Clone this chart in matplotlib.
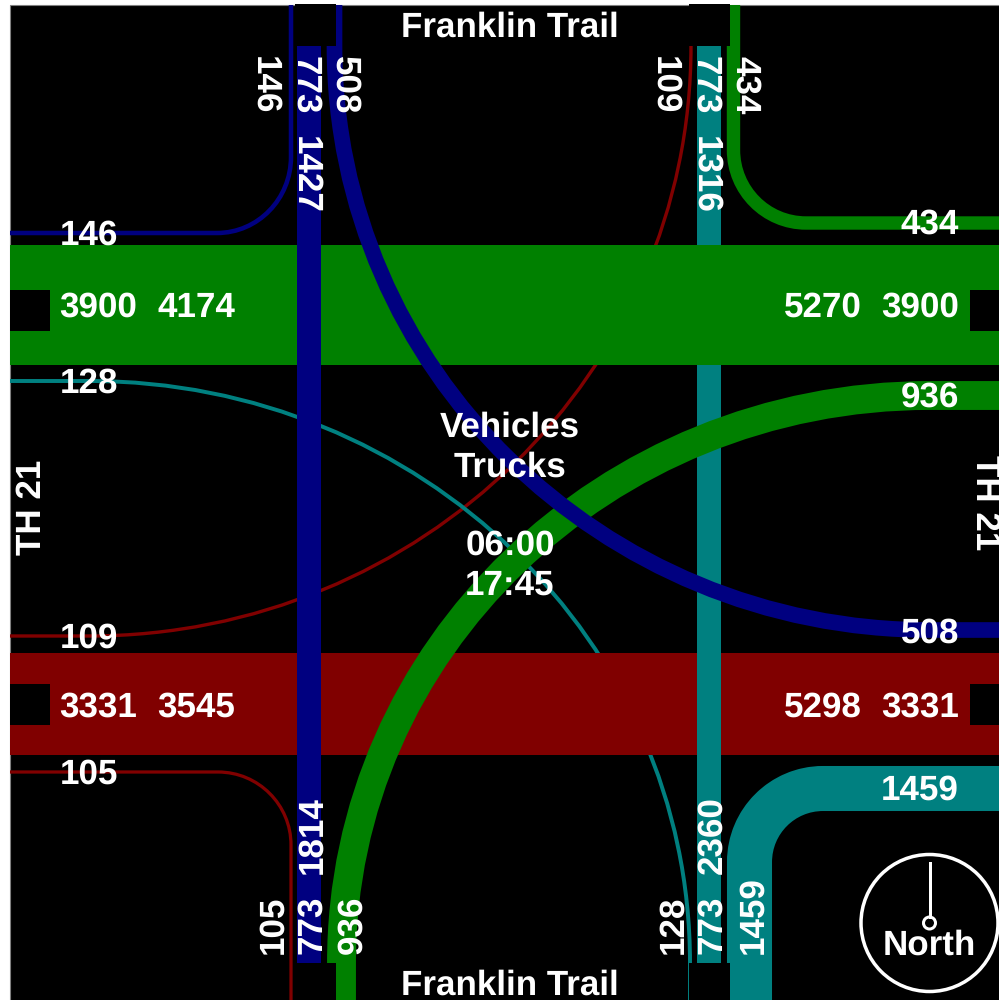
"""Turning movement flow map for TH 21 at the two Franklin Trail junctions"""

import matplotlib
matplotlib.use('Agg')
import matplotlib.pyplot as plt
from matplotlib.patches import Circle, PathPatch, Rectangle
from matplotlib.path import Path

plt.rcParams['font.family'] = ['Liberation Sans', 'DejaVu Sans']
plt.rcParams['text.hinting'] = 'no_hinting'
plt.rcParams['text.hinting_factor'] = 1

GREEN = '#008000'
NAVY = '#000080'
TEAL = '#008080'
MAROON = '#800000'

# Volumes, band width follows volume
main_road = [3900, 3331]
main_road_colors = [GREEN, MAROON]
side_road = [773, 773]
side_road_colors = [NAVY, TEAL]
turn_names = ['nw_in', 'nw_out', 'ne_in', 'ne_out', 'sw_in', 'sw_out', 'se_in', 'se_out']
turn_volumes = [146, 508, 434, 109, 105, 936, 128, 1459]
turn_colors = [NAVY, NAVY, GREEN, MAROON, MAROON, GREEN, TEAL, TEAL]

left_totals = [[3900, 4174], [3331, 3545]]
right_totals = [[5270, 3900], [5298, 3331]]
top_totals = [1427, 1316]
bottom_totals = [1814, 2360]

VOLUME_PER_PIXEL = 32.4
PX = 72 / 100  # points per pixel at dpi 100
FONT_SIZE = 25.4


def px_width(volume):
    return volume / VOLUME_PER_PIXEL


def turn_path(start, a, b, end):
    # straight, then a quarter ellipse, then straight again
    k = 0.5523
    corner = (a[0], b[1]) if a[0] == start[0] else (b[0], a[1])
    c1 = (a[0] + k * (corner[0] - a[0]), a[1] + k * (corner[1] - a[1]))
    c2 = (b[0] + k * (corner[0] - b[0]), b[1] + k * (corner[1] - b[1]))
    codes = [Path.MOVETO, Path.LINETO, Path.CURVE4, Path.CURVE4, Path.CURVE4, Path.LINETO]
    return Path([start, a, c1, c2, b, end], codes)


def draw_turn(ax, name, start, a, b, end, zorder):
    i = turn_names.index(name)
    patch = PathPatch(turn_path(start, a, b, end), fill=False, edgecolor=turn_colors[i],
                      linewidth=px_width(turn_volumes[i]) * PX, capstyle='butt',
                      joinstyle='round', zorder=zorder)
    ax.add_patch(patch)


def label(ax, x, y, value, rotation=0, ha='left', zorder=10):
    ax.text(x, y, str(value), color='white', fontsize=FONT_SIZE, fontweight='bold',
            rotation=rotation, rotation_mode='anchor', ha=ha, va='baseline', zorder=zorder)


fig = plt.figure(figsize=(9.99, 10), dpi=100, facecolor='white')
ax = fig.add_axes([0, 0, 1, 1])
ax.set_xlim(0, 999)
ax.set_ylim(1000, 0)
ax.axis('off')

# Background
ax.add_patch(Rectangle((9.8, 5.2), 1000, 1000, facecolor='black', edgecolor='#808080',
                       linewidth=0.8, zorder=0))

# Thin movements go under the roads
draw_turn(ax, 'ne_out', (10, 636), (89, 636), (691, 46), (691, 5), 1)
draw_turn(ax, 'sw_in', (10, 772), (218, 772), (291, 845), (291, 1001), 1)
draw_turn(ax, 'se_in', (10, 381), (89, 381), (690, 963), (690, 1001), 2)

# Main road bands, teal side road sits between them
main_y = [305, 704]
ax.add_patch(Rectangle((10, main_y[1] - px_width(main_road[1]) / 2), 990, px_width(main_road[1]),
                       facecolor=main_road_colors[1], edgecolor='none', zorder=3))
side_x = [309, 709]
ax.add_patch(Rectangle((side_x[1] - px_width(side_road[1]) / 2, 46), px_width(side_road[1]), 917,
                       facecolor=side_road_colors[1], edgecolor='none', zorder=4))
draw_turn(ax, 'se_out', (1001, 788.5), (823, 788.5), (749.5, 862), (749.5, 1001), 4)
ax.add_patch(Rectangle((10, main_y[0] - px_width(main_road[0]) / 2), 990, px_width(main_road[0]),
                       facecolor=main_road_colors[0], edgecolor='none', zorder=5))

draw_turn(ax, 'sw_out', (1001, 395.5), (930, 395.5), (341.5, 963), (341.5, 1001), 6)
draw_turn(ax, 'ne_in', (733.5, 5), (733.5, 150), (806, 223), (1001, 223), 6)

ax.add_patch(Rectangle((side_x[0] - px_width(side_road[0]) / 2, 46), px_width(side_road[0]), 917,
                       facecolor=side_road_colors[0], edgecolor='none', zorder=7))
draw_turn(ax, 'nw_in', (291, 5), (291, 157), (217, 233), (10, 233), 7)
draw_turn(ax, 'nw_out', (334.5, 5), (334.5, 46), (930, 630), (1001, 630), 7)

# Black notches at the road ends
for x, w in [(295, 41), (689, 41)]:
    ax.add_patch(Rectangle((x, 4), w, 42, facecolor='black', edgecolor='none', zorder=8))
    ax.add_patch(Rectangle((x, 963), w, 40, facecolor='black', edgecolor='none', zorder=8))
for y in [290, 684]:
    ax.add_patch(Rectangle((10, y), 40, 41, facecolor='black', edgecolor='none', zorder=8))
    ax.add_patch(Rectangle((969.5, y), 32, 41, facecolor='black', edgecolor='none', zorder=8))

# Horizontal numbers
label(ax, 59.5, 245, turn_volumes[0])
label(ax, 59.5, 393, turn_volumes[6])
label(ax, 59.5, 648, turn_volumes[3])
label(ax, 59.5, 784, turn_volumes[4])
label(ax, 959, 234, turn_volumes[2], ha='right')
label(ax, 959, 407, turn_volumes[5], ha='right')
label(ax, 959, 643, turn_volumes[1], ha='right')
label(ax, 959, 800, turn_volumes[7], ha='right')

for base, lefts, rights in zip([317, 717], left_totals, right_totals):
    label(ax, 59.5, base, lefts[0])
    label(ax, 157, base, lefts[1])
    label(ax, 862, base, rights[0], ha='right')
    label(ax, 959, base, rights[1], ha='right')

# Numbers along the side roads
label(ax, 255, 55.5, turn_volumes[0], rotation=-90)
label(ax, 296, 55.5, side_road[0], rotation=-90)
label(ax, 296, 136.5, top_totals[0], rotation=-90)
label(ax, 335, 55.5, turn_volumes[1], rotation=-90)
label(ax, 655, 55.5, turn_volumes[3], rotation=-90)
label(ax, 696, 55.5, side_road[1], rotation=-90)
label(ax, 696, 136.5, top_totals[1], rotation=-90)
label(ax, 736, 55.5, turn_volumes[2], rotation=-90)

label(ax, 282, 954, turn_volumes[4], rotation=90)
label(ax, 321, 954, side_road[0], rotation=90)
label(ax, 321, 873.5, bottom_totals[0], rotation=90)
label(ax, 361, 954, turn_volumes[5], rotation=90)
label(ax, 682, 954, turn_volumes[6], rotation=90)
label(ax, 721, 954, side_road[1], rotation=90)
label(ax, 721, 873.5, bottom_totals[1], rotation=90)
label(ax, 762, 954, turn_volumes[7], rotation=90)

# Titles and road names
for x, y, text in [(510, 37, 'Franklin Trail'), (510, 995, 'Franklin Trail'),
                   (510, 437, 'Vehicles'), (510, 477, 'Trucks'),
                   (510, 555, '06:00'), (510, 595, '17:45'), (929.5, 955, 'North')]:
    label(ax, x, y, text, ha='center')
label(ax, 41, 507, 'TH 21', rotation=90, ha='center')
label(ax, 976, 503, 'TH 21', rotation=-90, ha='center')

# North arrow
ax.add_patch(Circle((929.5, 923), 68.5, fill=False, edgecolor='white', linewidth=3.5 * PX, zorder=9))
ax.plot([929.5, 929.5], [863, 917], color='white', linewidth=3 * PX, zorder=9)
ax.add_patch(Circle((929.5, 923), 6, fill=False, edgecolor='white', linewidth=3 * PX, zorder=9))

fig.savefig('out.png', dpi=100)
